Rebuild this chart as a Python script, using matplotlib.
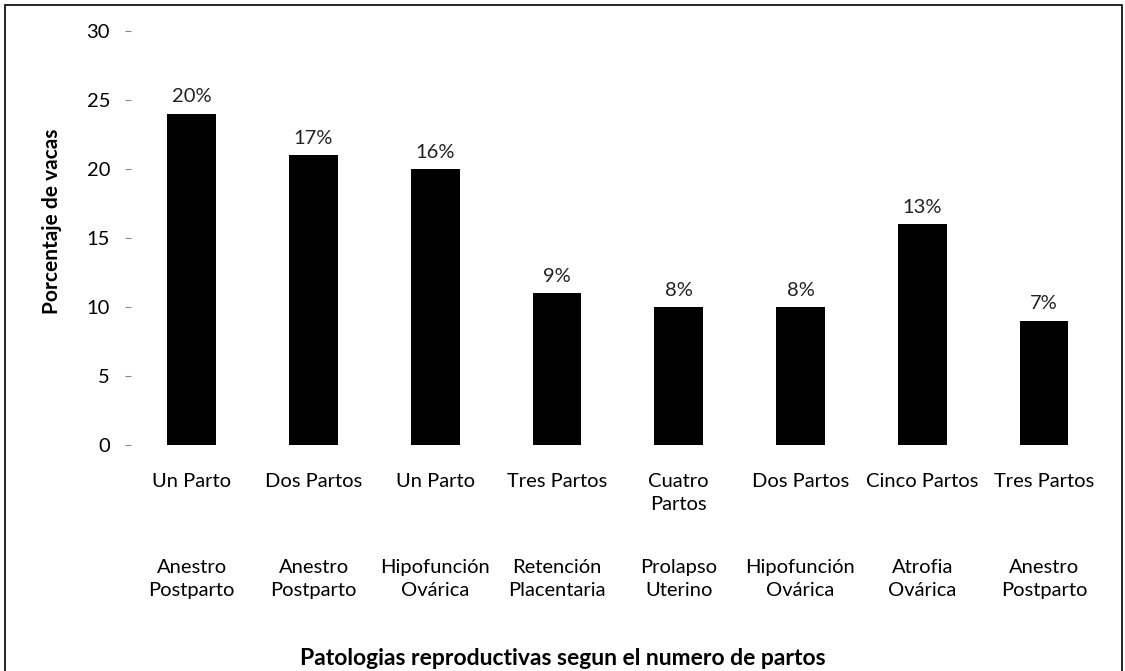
import matplotlib
matplotlib.use("Agg")
import matplotlib.pyplot as plt
from matplotlib.patches import Rectangle

plt.rcParams['font.family'] = ['Lato', 'DejaVu Sans']

partos = ["Un Parto", "Dos Partos", "Un Parto", "Tres Partos", "Cuatro\nPartos",
          "Dos Partos", "Cinco Partos", "Tres Partos"]
patologias = ["Anestro\nPostparto", "Anestro\nPostparto", "Hipofunción\nOvárica",
              "Retención\nPlacentaria", "Prolapso\nUterino", "Hipofunción\nOvárica",
              "Atrofia\nOvárica", "Anestro\nPostparto"]
values = [24, 21, 20, 11, 10, 10, 16, 9]
pct_labels = ["20%", "17%", "16%", "9%", "8%", "8%", "13%", "7%"]
yticks = [0, 5, 10, 15, 20, 25, 30]

FS = 14.5
fig = plt.figure(figsize=(11.25, 6.71), dpi=100)
ax = fig.add_axes([0.1164, 0.3368, 0.8656, 0.6172])

x = list(range(len(values)))
ax.bar(x, values, width=0.4, color="black")
for xi, v, lab in zip(x, values, pct_labels):
    ax.annotate(lab, (xi, v), xytext=(0, 6), textcoords="offset points",
                ha="center", va="bottom", fontsize=FS, color="#222222")

ax.set_xlim(-0.5, len(values) - 0.5)
ax.set_ylim(0, 30)
ax.set_yticks(yticks)
ax.set_yticklabels([str(t) for t in yticks], fontsize=FS)
ax.tick_params(axis='y', length=4, color="#888888", pad=11)
ax.set_xticks(x)
ax.set_xticklabels(partos, fontsize=FS, va="top", linespacing=1.45)
ax.tick_params(axis='x', length=0, pad=20)
for s in ax.spines.values():
    s.set_visible(False)

for xi, lab in zip(x, patologias):
    ax.annotate(lab, (xi, 0), xycoords=("data", "axes fraction"),
                xytext=(0, -82), textcoords="offset points",
                ha="center", va="top", fontsize=FS, linespacing=1.45)

ax.set_ylabel("Porcentaje de vacas", fontsize=15, fontweight="bold")
ax.yaxis.set_label_coords(-0.071, 0.54)
fig.text(0.5, 0.018, "Patologias reproductivas segun el numero de partos",
         ha="center", va="center", fontsize=16.5, fontweight="bold")

fig.add_artist(Rectangle((0.004, -0.01), 0.993, 1.002, transform=fig.transFigure,
                         fill=False, edgecolor="black", linewidth=1.2))

fig.savefig("out.png", dpi=100)
